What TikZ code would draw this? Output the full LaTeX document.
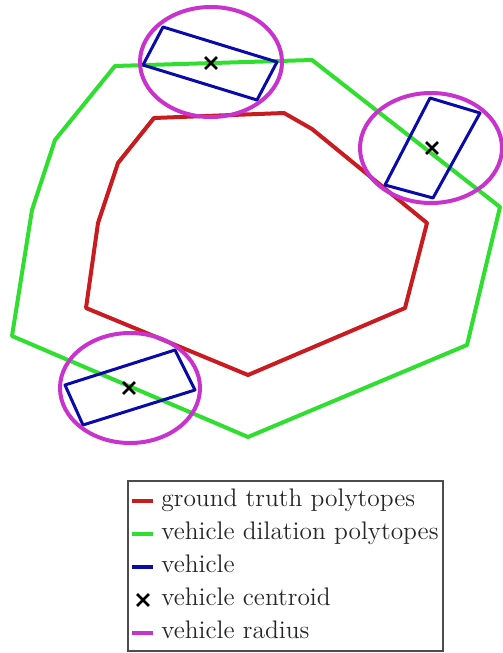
\documentclass[tikz,border=0pt]{standalone}
\usetikzlibrary{shapes.misc}

\definecolor{truthred}{RGB}{200,28,32}
\definecolor{dilgreen}{RGB}{48,222,48}
\definecolor{vehblue}{RGB}{10,10,170}
\definecolor{radmag}{RGB}{200,50,205}

\begin{document}
\begin{tikzpicture}[x=0.5pt, y=-0.5pt,
  truth/.style={draw=truthred, line width=2pt, line join=round},
  dilation/.style={draw=dilgreen, line width=2pt, line join=round},
  vehbox/.style={draw=vehblue, line width=1.5pt, line join=round},
  radius ring/.style={draw=radmag, line width=2pt},
  centroid/.style={cross out, draw=black, line width=1.4pt,
                   minimum size=4.5pt, inner sep=0pt},
  legtext/.style={anchor=base west, inner sep=0pt, text=black!85,
                  font=\fontsize{12.7}{15}\selectfont}
]
  \useasboundingbox (0,0) rectangle (503,653);

  % polytopes
  \draw[truth] (154,118) -- (284,113) -- (312,129) -- (427,223)
    -- (405,308) -- (248,375) -- (86,308) -- (98,223) -- (118,163) -- cycle;
  \draw[dilation] (115,66) -- (312,60) -- (500,207) -- (467,345)
    -- (248,437) -- (12,336) -- (32,210) -- (55,140) -- cycle;

  % vehicles
  \coordinate (vt) at (211,63);
  \coordinate (vr) at (432,148);
  \coordinate (vl) at (129,388);
  \draw[vehbox] (163,27) -- (277,62) -- (257,100) -- (143,65) -- cycle;
  \draw[vehbox] (430,98) -- (480,113) -- (433,198) -- (385,185) -- cycle;
  \draw[vehbox] (65,385) -- (175,350) -- (195,390) -- (83,425) -- cycle;

  % vehicle radius
  \draw[radius ring] (211,62) ellipse [x radius=35.5pt, y radius=27.5pt];
  \draw[radius ring] (431,148) ellipse [x radius=35.5pt, y radius=27.5pt];
  \draw[radius ring] (130,388) ellipse [x radius=35pt, y radius=27.5pt];

  \node[centroid] (ct) at (vt) {};
  \node[centroid] (cr) at (vr) {};
  \node[centroid] (cl) at (vl) {};

  % legend
  \draw[draw=black!70, line width=0.7pt, fill=white] (128,481) rectangle (443,651);
  \draw[truthred, line width=2pt] (132,501) -- (153,501);
  \draw[dilgreen, line width=2pt] (132,534) -- (153,534);
  \draw[vehblue, line width=2pt] (132,567) -- (153,567);
  \node[centroid] (lc) at (143,600) {};
  \draw[radmag, line width=2pt] (132,633) -- (153,633);
  \node[legtext] (l1) at (161,506) {ground truth polytopes};
  \node[legtext] (l2) at (161,539) {vehicle dilation polytopes};
  \node[legtext] (l3) at (161,572) {vehicle};
  \node[legtext] (l4) at (161,605) {vehicle centroid};
  \node[legtext] (l5) at (161,638) {vehicle radius};
\end{tikzpicture}
\end{document}
